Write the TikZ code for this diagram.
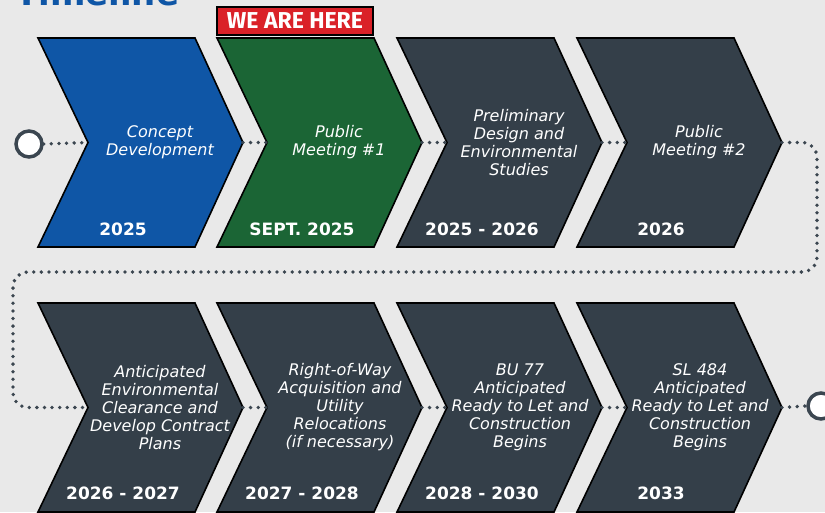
\documentclass[tikz,border=0pt]{standalone}
\usepackage{fontspec}
\setsansfont{DejaVu Sans}
\newfontfamily\herefont{Fira Sans}
\usepackage{xcolor}
\definecolor{tlblue}{HTML}{0F56A6}
\definecolor{tlgreen}{HTML}{1B6535}
\definecolor{tlslate}{HTML}{343F49}
\definecolor{tlred}{HTML}{DA2128}
\definecolor{tlgray}{HTML}{E9E9E9}
\definecolor{tldots}{HTML}{3B4650}
\tikzset{
	chev/.style={draw=black, line width=1.6pt, line join=miter},
	stagetext/.style={text=white, font=\sffamily\itshape\fontsize{16}{18}\selectfont, align=center, inner sep=0pt},
	yeartext/.style={text=white, font=\sffamily\bfseries\fontsize{17}{18}\selectfont, inner sep=0pt},
	dots/.style={color=tldots, line width=3.8pt, line cap=round, dash pattern=on 0pt off 7.6pt},
	endring/.style={circle, draw=tldots, line width=3.5pt, fill=white, minimum size=26pt, inner sep=0pt},
}

\begin{document}
\begin{tikzpicture}[x=1pt, y=-1pt]
		\fill[tlgray] (0,0) rectangle (825,512);
		\useasboundingbox (0,0) rectangle (825,512);
		\node[anchor=base west, inner sep=0pt, text=tlblue, font=\sffamily\bfseries\fontsize{34}{36}\selectfont] (title) at (15,5) {Timeline};
		\draw[chev, fill=tlblue] (38,38) -- ++(157,0) -- ++(48,104.5) -- ++(-48,104.5) -- ++(-157,0) -- ++(50,-104.5) -- cycle;
		\draw[chev, fill=tlgreen] (217,38) -- ++(157,0) -- ++(48,104.5) -- ++(-48,104.5) -- ++(-157,0) -- ++(50,-104.5) -- cycle;
		\draw[chev, fill=tlslate] (397,38) -- ++(157,0) -- ++(48,104.5) -- ++(-48,104.5) -- ++(-157,0) -- ++(50,-104.5) -- cycle;
		\draw[chev, fill=tlslate] (577,38) -- ++(157,0) -- ++(48,104.5) -- ++(-48,104.5) -- ++(-157,0) -- ++(50,-104.5) -- cycle;
		\draw[chev, fill=tlslate] (38,303) -- ++(157,0) -- ++(48,104.5) -- ++(-48,104.5) -- ++(-157,0) -- ++(50,-104.5) -- cycle;
		\draw[chev, fill=tlslate] (217,303) -- ++(157,0) -- ++(48,104.5) -- ++(-48,104.5) -- ++(-157,0) -- ++(50,-104.5) -- cycle;
		\draw[chev, fill=tlslate] (397,303) -- ++(157,0) -- ++(48,104.5) -- ++(-48,104.5) -- ++(-157,0) -- ++(50,-104.5) -- cycle;
		\draw[chev, fill=tlslate] (577,303) -- ++(157,0) -- ++(48,104.5) -- ++(-48,104.5) -- ++(-157,0) -- ++(50,-104.5) -- cycle;
		\coordinate (notch1) at (88,142.5);
		\coordinate (tip1) at (243,142.5);
		\coordinate (notch2) at (267,142.5);
		\coordinate (tip2) at (422,142.5);
		\coordinate (notch3) at (447,142.5);
		\coordinate (tip3) at (602,142.5);
		\coordinate (notch4) at (627,142.5);
		\coordinate (tip4) at (782,142.5);
		\coordinate (notch5) at (88,407.5);
		\coordinate (tip5) at (243,407.5);
		\coordinate (notch6) at (267,407.5);
		\coordinate (tip6) at (422,407.5);
		\coordinate (notch7) at (447,407.5);
		\coordinate (tip7) at (602,407.5);
		\coordinate (notch8) at (627,407.5);
		\coordinate (tip8) at (782,407.5);
		\coordinate (bendr) at (817,272);
		\coordinate (bendl) at (13,272);
		\node[stagetext] (s1) at (160,142.5) {Concept\\Development};
		\node[stagetext] (s2) at (339,142.5) {Public\\Meeting \#1};
		\node[stagetext] (s3) at (519,142.5) {Preliminary\\Design and\\Environmental\\Studies};
		\node[stagetext] (s4) at (699,142.5) {Public\\Meeting \#2};
		\node[stagetext] (s5) at (160,407.5) {Anticipated\\Environmental\\Clearance and\\Develop Contract\\Plans};
		\node[stagetext] (s6) at (340,407.5) {Right-of-Way\\Acquisition and\\Utility\\Relocations\\(if necessary)};
		\node[stagetext] (s7) at (520,407.5) {BU 77\\Anticipated\\Ready to Let and\\Construction\\Begins};
		\node[stagetext] (s8) at (700,407.5) {SL 484\\Anticipated\\Ready to Let and\\Construction\\Begins};
		\node[yeartext] (y1) at (123,229) {2025};
		\node[yeartext] (y2) at (302,229) {SEPT. 2025};
		\node[yeartext] (y3) at (482,229) {2025 - 2026};
		\node[yeartext] (y4) at (661,229) {2026};
		\node[yeartext] (y5) at (123,493) {2026 - 2027};
		\node[yeartext] (y6) at (302,493) {2027 - 2028};
		\node[yeartext] (y7) at (482,493) {2028 - 2030};
		\node[yeartext] (y8) at (661,493) {2033};
		\node[draw=black, line width=1.6pt, fill=tlred, minimum width=156pt, minimum height=28pt, inner sep=0pt, text=white, font=\herefont\bfseries\fontsize{23}{23}\selectfont] (here) at (295,21) {WE ARE HERE};
		\node[endring] (start) at (29,144) {};
		\node[endring] (finish) at (821,406) {};
		\draw[dots] (start.east) -- (notch1);
		\draw[dots] (tip1) -- (notch2);
		\draw[dots] (tip2) -- (notch3);
		\draw[dots] (tip3) -- (notch4);
		\draw[dots, rounded corners=15pt] (tip4) -| (bendr) -- (bendl) |- (notch5);
		\draw[dots] (tip5) -- (notch6);
		\draw[dots] (tip6) -- (notch7);
		\draw[dots] (tip7) -- (notch8);
		\draw[dots] (tip8) -- (finish.west);
	\end{tikzpicture}
\end{document}
